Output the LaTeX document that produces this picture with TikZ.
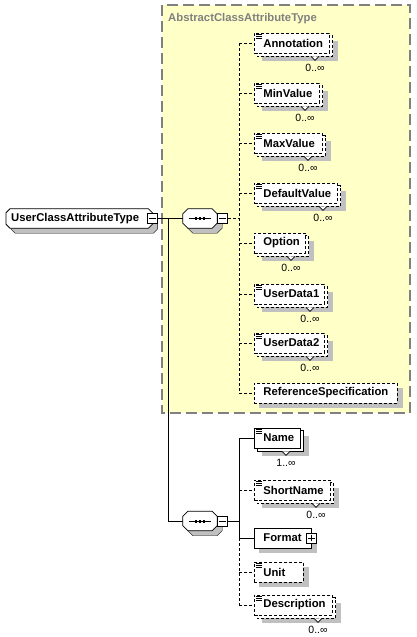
\documentclass[tikz,border=0pt]{standalone}
\usepackage{fontspec}
\setmainfont{Liberation Sans}
\usetikzlibrary{calc}
\definecolor{yel}{HTML}{FFFFC8}
\definecolor{shd}{HTML}{C0C0C0}
\definecolor{frame}{HTML}{808080}
\pgfdeclarelayer{l0}\pgfdeclarelayer{l1}\pgfdeclarelayer{l2}\pgfdeclarelayer{l3}
\pgfsetlayers{l0,l1,l2,l3,main}
\tikzset{
 dsh/.style={dash pattern=on 3pt off 2pt},
 ln/.style={line width=0.8pt},
 bfont/.style={font=\fontsize{11.3}{13}\selectfont\bfseries},
 ebox/.style={draw, fill=white, line width=0.8pt, minimum height=20pt, inner sep=0pt, anchor=west, bfont},
 card/.style={font=\fontsize{10.5}{12}\selectfont, inner sep=0pt, anchor=east},
 pm/.style={draw, fill=white, minimum size=10pt, inner sep=0pt, line width=0.8pt},
 cmp/.style={minimum width=34pt, minimum height=19pt, inner sep=0pt},
}
% chamfered outline of a node: #1 node, #2 chamfer, #3 style
\newcommand\octo[3]{%
 \draw[#3] ([xshift=#2]#1.north west) -- ([xshift=-#2]#1.north east) -- ([yshift=-#2]#1.north east) -- ([yshift=#2]#1.south east) -- ([xshift=-#2]#1.south east) -- ([xshift=#2]#1.south west) -- ([yshift=#2]#1.south west) -- ([yshift=-#2]#1.north west) -- cycle;}
% element: #1 name #2 x1 #3 x2 #4 yc #5 text #6 border style #7 stacked #8 icon
\newcommand\xel[8]{%
 \pgfmathsetmacro\xw{#3-#2}%
 \node[ebox,#6] (#1) at (#2,#4) {\hbox to \xw pt{\hspace{9pt}#5\hss}};
 \ifnum#7=1
  \begin{pgfonlayer}{l3}\draw[ln,#6,fill=white] ([xshift=3pt,yshift=-3pt]#1.north west) rectangle ([xshift=3pt,yshift=-3pt]#1.south east);\end{pgfonlayer}
  \begin{pgfonlayer}{l2}\fill[shd] ([xshift=8pt,yshift=-8pt]#1.north west) rectangle ([xshift=8pt,yshift=-8pt]#1.south east);\end{pgfonlayer}
 \else
  \begin{pgfonlayer}{l2}\fill[shd] ([xshift=5pt,yshift=-5pt]#1.north west) rectangle ([xshift=5pt,yshift=-5pt]#1.south east);\end{pgfonlayer}
 \fi
 \ifnum#8=1
  \foreach \k in {1.5,3.5,5.5}{\draw[line width=0.6pt] ([xshift=1.5pt,yshift=-\k pt]#1.north west) -- ++(6,0);}
 \fi
}
% cardinality: #1 element, #2 text
\newcommand\xcard[2]{%
 \node[card] (#1-c) at ([xshift=-5pt,yshift=-25pt]#1.east) {#2};
 \path (#1-c.center |- #1.south) ++(0,3) coordinate (#1-n);
 \begin{pgfonlayer}{l3}\draw[ln,fill=white] ([xshift=-4pt]#1-n) -- ([yshift=-4pt]#1-n) -- ([xshift=4pt]#1-n);\end{pgfonlayer}
}
\begin{document}
\begin{tikzpicture}[x=1pt,y=-1pt]
\useasboundingbox (0,0) rectangle (416,637);
\begin{pgfonlayer}{l0}
 \fill[yel] (162,5) rectangle (410,413);
 \draw[frame, line width=1.5pt, dash pattern=on 11pt off 5pt] (162,5) rectangle (410,413);
\end{pgfonlayer}
\node[bfont, text=frame, anchor=west, inner sep=0pt] (title) at (168,19) {AbstractClassAttributeType};

% root
\node[minimum height=19pt, inner sep=0pt, anchor=west, bfont] (root) at (6,218.5) {\hbox to 146pt{\hspace{5pt}UserClassAttributeType\hss}};
\begin{pgfonlayer}{l3}\octo{root}{4pt}{draw, fill=white, ln}\end{pgfonlayer}
\begin{pgfonlayer}{l2}\octo{root}{4pt}{fill=shd, transform canvas={xshift=5pt,yshift=-5pt}}\end{pgfonlayer}
\node[pm] (root-m) at (root.east) {};
\draw[ln] ([xshift=2pt]root-m.west) -- ([xshift=-2pt]root-m.east);

% sequences
\foreach \s/\yy in {seq1/218.5, seq2/521}{
 \node[cmp] (\s) at (200,\yy) {};
 \begin{pgfonlayer}{l3}\octo{\s}{5pt}{draw, fill=white, ln}\end{pgfonlayer}
 \begin{pgfonlayer}{l2}\octo{\s}{5pt}{fill=shd, transform canvas={xshift=5pt,yshift=-5pt}}\end{pgfonlayer}
 \draw[line width=1pt] ([xshift=6pt]\s.west) -- ([xshift=-6pt]\s.east);
 \foreach \d in {-4,0,4}{\fill ([xshift=\d pt]\s.center) +(-1.3,-1.5) rectangle +(1.3,1.5);}
 \node[pm, anchor=west] (\s-m) at (\s.east) {};
 \draw[ln] ([xshift=2pt]\s-m.west) -- ([xshift=-2pt]\s-m.east);
}

% elements of first sequence
\xel{annotation}{254}{329}{43}{Annotation}{dsh}{1}{1}
\xel{minvalue}{254}{319}{93}{MinValue}{dsh}{1}{1}
\xel{maxvalue}{254}{322}{143}{MaxValue}{dsh}{1}{1}
\xel{defaultvalue}{254}{337}{193}{DefaultValue}{dsh}{1}{1}
\xel{option}{254}{305}{243}{Option}{dsh}{1}{0}
\xel{userdata1}{254}{324}{294}{UserData1}{dsh}{1}{1}
\xel{userdata2}{254}{324}{343}{UserData2}{dsh}{1}{1}
\xel{refspec}{254}{397}{393}{ReferenceSpecification}{dsh}{0}{0}
\foreach \e in {annotation,minvalue,maxvalue,defaultvalue,option,userdata1,userdata2}{\xcard{\e}{0..∞}}

% elements of second sequence
\xel{name}{254}{300}{438}{Name}{solid}{1}{1}
\xel{shortname}{254}{330}{490}{ShortName}{dsh}{1}{1}
\xel{format}{254}{311}{538}{Format}{solid}{0}{0}
\xel{unit}{254}{303}{572}{Unit}{dsh}{0}{1}
\xel{description}{254}{332}{605}{Description}{dsh}{1}{1}
\xcard{name}{1..∞}
\xcard{shortname}{0..∞}
\xcard{description}{0..∞}
\node[pm] (format-p) at (format.east) {};
\draw[ln] ([xshift=2pt]format-p.west) -- ([xshift=-2pt]format-p.east);
\draw[ln] ([yshift=2pt]format-p.south) -- ([yshift=-2pt]format-p.north);

% connectors
\coordinate (j1) at ([xshift=11pt]root-m.east);
\coordinate (v1) at ([xshift=11pt]seq1-m.east);
\coordinate (v2) at ([xshift=11pt]seq2-m.east);
\begin{pgfonlayer}{l1}
 \draw[ln] (root-m.east) -- (seq1.west);
 \draw[ln] (j1) |- (seq2.west);
 \draw[ln,dsh] (seq1-m.east) -- (v1);
 \draw[ln,dsh] (v1 |- annotation.west) -- (v1 |- refspec.west);
 \foreach \e in {annotation,minvalue,maxvalue,defaultvalue,option,userdata1,userdata2,refspec}{\draw[ln,dsh] (v1 |- \e.west) -- (\e.west);}
 \draw[ln] (seq2-m.east) -- (v2);
 \draw[ln] (v2 |- name.west) -- (v2 |- format.west);
 \draw[ln,dsh] (v2 |- format.west) -- (v2 |- description.west);
 \draw[ln] (v2 |- name.west) -- (name.west);
 \draw[ln] (v2 |- format.west) -- (format.west);
 \foreach \e in {shortname,unit,description}{\draw[ln,dsh] (v2 |- \e.west) -- (\e.west);}
\end{pgfonlayer}
\end{tikzpicture}
\end{document}
